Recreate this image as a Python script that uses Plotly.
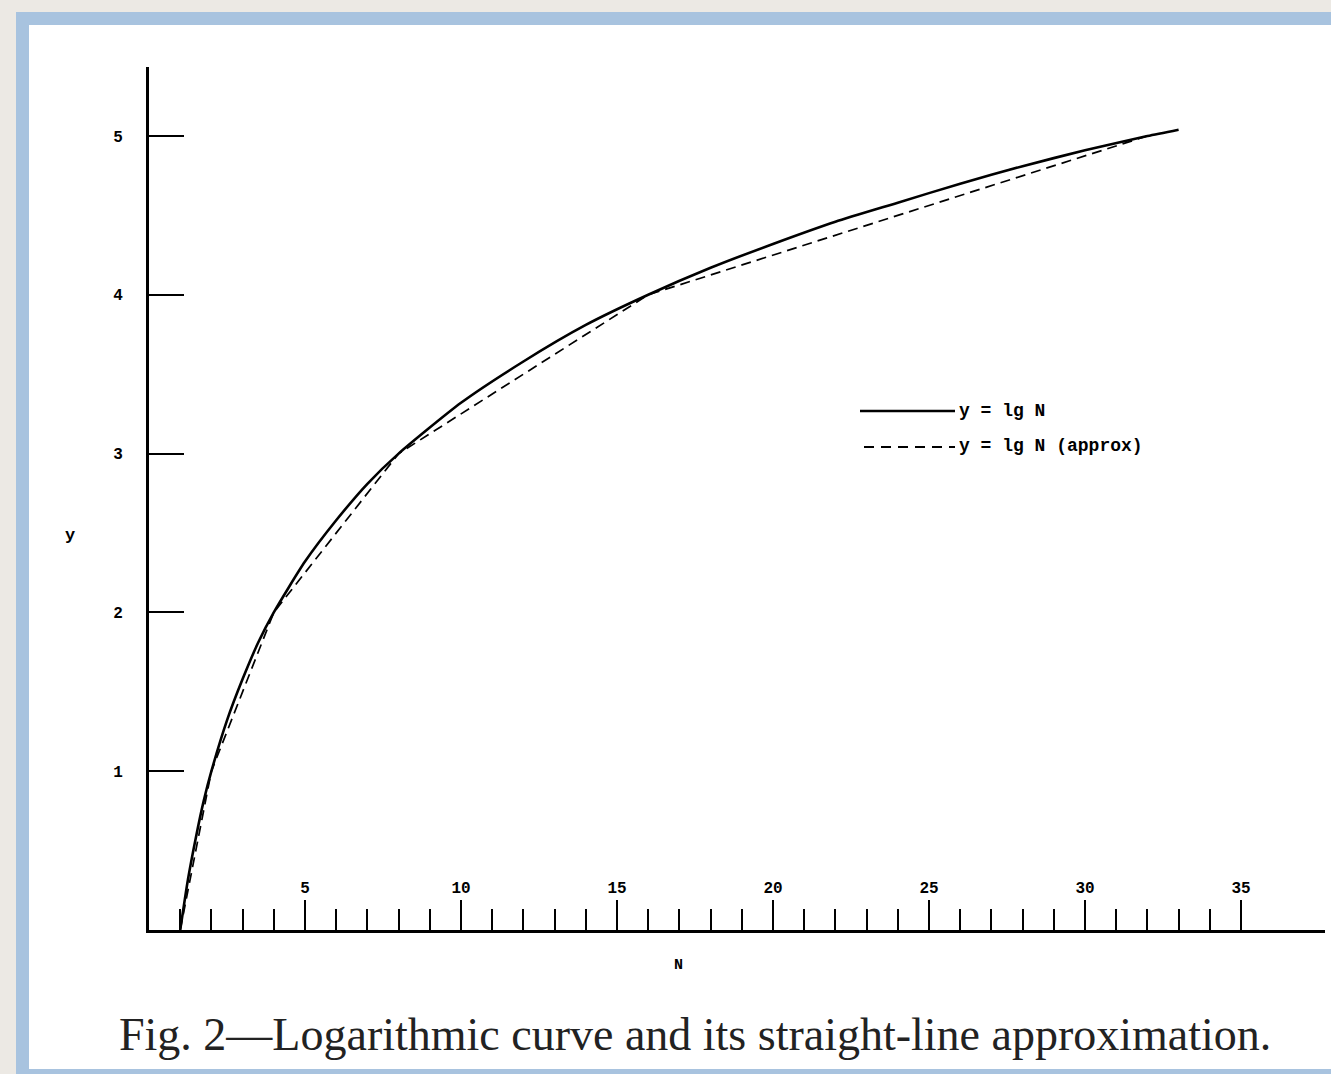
import plotly.graph_objects as go

# ---- data ----
n_curve = [1, 1.25, 1.5, 1.75, 2, 2.5, 3, 3.5, 4, 5, 6, 7, 8, 10, 12, 14, 16,
           18, 20, 22, 24, 26, 28, 30, 32, 33]
y_curve = [0.00, 0.32, 0.58, 0.81, 1.00, 1.32, 1.58, 1.81, 2.00, 2.32, 2.58,
           2.81, 3.00, 3.32, 3.58, 3.81, 4.00, 4.17, 4.32, 4.46, 4.58, 4.70,
           4.81, 4.91, 5.00, 5.04]
n_approx = [1, 2, 4, 8, 16, 32]
y_approx = [0, 1, 2, 3, 4, 5]

x_major_ticks = [5, 10, 15, 20, 25, 30, 35]
x_minor_ticks = [i for i in range(1, 35) if i % 5 != 0]
y_ticks = [1, 2, 3, 4, 5]
legend_labels = ["y = lg N", "y = lg N (approx)"]
caption = "Fig. 2\u2014Logarithmic curve and its straight-line approximation."

W, H = 1331, 1074
L, R, T, B = 149, 6, 67, 144
PW, PH = W - L - R, H - T - B


def px(x):
    return (x - L) / PW


def py(y):
    return 1 - (y - T) / PH


mono = "Liberation Mono"
mfont = lambda s: dict(family=mono, size=s, color="black", weight="bold")

fig = go.Figure()
fig.add_trace(go.Scatter(x=n_curve, y=y_curve, mode="lines", name=legend_labels[0],
                         line=dict(color="black", width=2.6, shape="spline", smoothing=0.6),
                         showlegend=False))
fig.add_trace(go.Scatter(x=n_approx, y=y_approx, mode="lines", name=legend_labels[1],
                         line=dict(color="black", width=1.7, dash="10px,6px"),
                         showlegend=False))

shapes = [
    # blue frame
    dict(type="rect", xref="paper", yref="paper", x0=px(16), x1=px(1340), y0=py(12), y1=py(1080),
         fillcolor="#A8C3DF", line=dict(width=0), layer="below"),
    dict(type="rect", xref="paper", yref="paper", x0=px(29), x1=px(1340), y0=py(25), y1=py(1069),
         fillcolor="white", line=dict(width=0), layer="below"),
    # custom legend samples
    dict(type="line", xref="paper", yref="paper", x0=px(860), x1=px(955), y0=py(411), y1=py(411),
         line=dict(color="black", width=2.4)),
    dict(type="line", xref="paper", yref="paper", x0=px(864), x1=px(955), y0=py(447), y1=py(447),
         line=dict(color="black", width=1.8, dash="10px,7px")),
]

annotations = [
    dict(text=legend_labels[0], xref="paper", yref="paper", x=px(957), y=py(411),
         xanchor="left", yanchor="middle", showarrow=False, font=mfont(18)),
    dict(text=legend_labels[1], xref="paper", yref="paper", x=px(957), y=py(446),
         xanchor="left", yanchor="middle", showarrow=False, font=mfont(18)),
    dict(text="y", xref="paper", yref="paper", x=px(70), y=py(535),
         xanchor="center", yanchor="middle", showarrow=False, font=mfont(17)),
    dict(text="N", xref="paper", yref="paper", x=px(678), y=py(965),
         xanchor="center", yanchor="middle", showarrow=False, font=mfont(15)),
    dict(text=caption, xref="paper", yref="paper", x=px(695), y=py(1034),
         xanchor="center", yanchor="middle", showarrow=False,
         font=dict(family="Liberation Serif", size=46, color="#222")),
]

fig.update_layout(
    width=W, height=H,
    margin=dict(l=L, r=R, t=T, b=B, pad=0),
    paper_bgcolor="#ECE9E4",
    plot_bgcolor="rgba(0,0,0,0)",
    showlegend=False,
    shapes=shapes,
    annotations=annotations,
    xaxis=dict(range=[0, PW / 31.2], showgrid=False, zeroline=False,
               showline=True, linecolor="black", linewidth=2.8,
               tickmode="array", tickvals=x_major_ticks,
               ticktext=[str(v) for v in x_major_ticks],
               ticks="inside", ticklen=30, tickwidth=1.6, tickcolor="black",
               ticklabelposition="inside", ticklabelstandoff=4,
               tickfont=mfont(16),
               minor=dict(tickmode="array", tickvals=x_minor_ticks, ticks="inside",
                          ticklen=21, tickwidth=2.2, tickcolor="black", showgrid=False)),
    yaxis=dict(range=[0, PH / 158.8], showgrid=False, zeroline=False,
               showline=True, linecolor="black", linewidth=2.8,
               tickmode="array", tickvals=y_ticks, ticktext=[str(v) for v in y_ticks],
               ticks="inside", ticklen=35, tickwidth=1.6, tickcolor="black",
               ticklabelstandoff=20,
               tickfont=mfont(16)),
)

fig.write_html("out.html")
